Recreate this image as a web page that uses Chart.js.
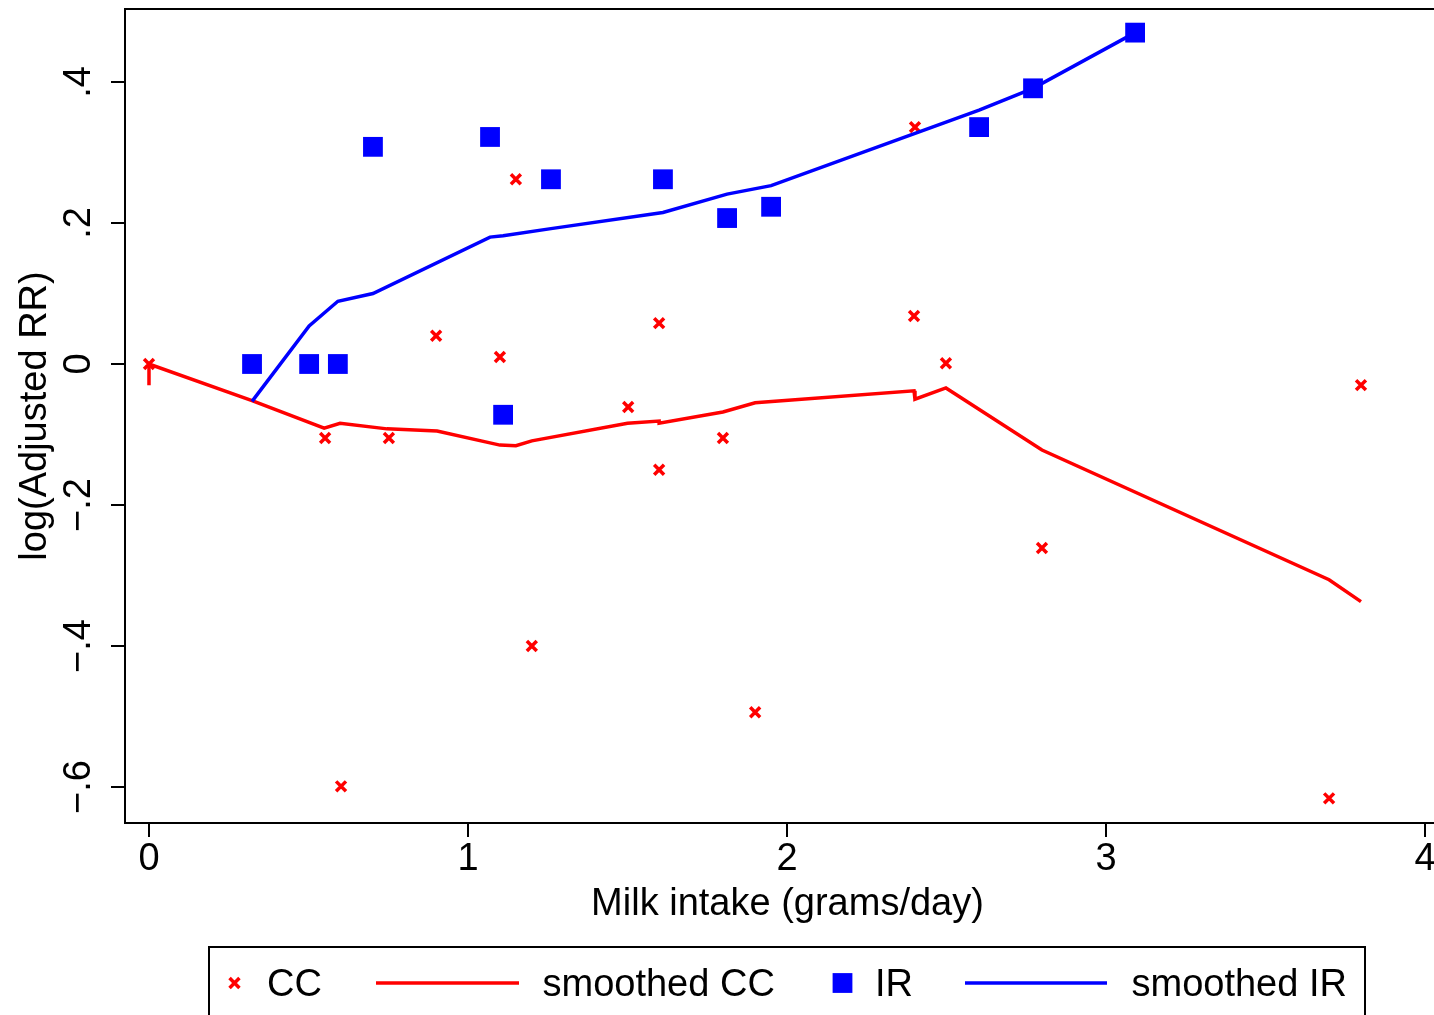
<!DOCTYPE html>
<html lang="en">
<head>
  <meta charset="UTF-8">
  <title>Milk intake and log(Adjusted RR)</title>
  <script src="https://cdn.jsdelivr.net/npm/chart.js@4.4.0/dist/chart.umd.min.js"></script>
  <style>
    body { margin: 0; overflow: hidden; background: #fff; }
    #wrap { width: 1450px; height: 1015px; }
  </style>
</head>
<body>
  <div id="wrap"><canvas id="chart" width="1450" height="1015"></canvas></div>

  <script>
    // CC studies (red crosses)
    const ccX = [0, 0.552, 0.752, 0.602, 0.900, 1.100, 1.150, 1.200, 1.502, 1.599, 1.599, 1.799, 1.900, 2.401, 2.398, 2.498, 2.799, 3.699, 3.799];
    const ccY = [0, -0.105, -0.105, -0.599, 0.040, 0.010, 0.262, -0.400, -0.061, 0.058, -0.150, -0.105, -0.494, 0.336, 0.068, 0.001, -0.261, -0.616, -0.030];

    // smoothed CC line
    const smCCX = [0, 0, 0.323, 0.549, 0.599, 0.746, 0.903, 1.100, 1.150, 1.200, 1.500, 1.599, 1.599, 1.799, 1.900, 2.398, 2.401, 2.498, 2.799, 3.699, 3.799];
    const smCCY = [-0.030, 0, -0.052, -0.091, -0.084, -0.092, -0.095, -0.115, -0.116, -0.109, -0.084, -0.081, -0.084, -0.068, -0.055, -0.038, -0.050, -0.034, -0.122, -0.306, -0.337];

    // IR studies (blue squares)
    const irX = [0.323, 0.502, 0.592, 0.702, 1.069, 1.110, 1.260, 1.611, 1.812, 1.950, 2.602, 2.771, 3.091];
    const irY = [0, 0, 0, 0.308, 0.322, -0.072, 0.262, 0.262, 0.207, 0.223, 0.336, 0.391, 0.470];

    // smoothed IR line
    const smIRX = [0.323, 0.502, 0.592, 0.702, 1.069, 1.110, 1.260, 1.611, 1.812, 1.950, 2.602, 2.771, 3.091];
    const smIRY = [-0.053, 0.054, 0.089, 0.100, 0.180, 0.182, 0.192, 0.215, 0.241, 0.253, 0.360, 0.391, 0.470];

    // axis ticks
    const xTickValues = [0, 1, 2, 3, 4];
    const xTickLabels = ['0', '1', '2', '3', '4'];
    const yTickValues = [-0.6, -0.4, -0.2, 0, 0.2, 0.4];
    const yTickLabels = ['\u2212.6', '\u2212.4', '\u2212.2', '0', '.2', '.4'];

    const RED = '#ff0000';
    const BLUE = '#0000ff';
    const FONT = "'Liberation Sans', Arial, sans-serif";

    function toPoints(xs, ys) {
      return xs.map(function (x, i) { return { x: x, y: ys[i] } });
    }

    // box round the plot region
    const frame = {
      id: 'frame',
      afterDraw(chart) {
        const a = chart.chartArea;
        const ctx = chart.ctx;
        ctx.save();
        ctx.strokeStyle = '#000';
        ctx.lineWidth = 2;
        ctx.strokeRect(a.left, a.top, a.right - a.left, a.bottom - a.top);
        ctx.restore();
      }
    };

    // legend box under the chart, one slot per dataset
    const legendSlots = [
      { kind: 'point', mx: 234.5, tx: 267 },
      { kind: 'line', mx: 376, mw: 143, tx: 542.5 },
      { kind: 'point', mx: 842.5, tx: 875 },
      { kind: 'line', mx: 965, mw: 142, tx: 1131.5 }
    ];
    const legendBox = {
      id: 'legendBox',
      afterDraw(chart) {
        const ctx = chart.ctx;
        const midY = 983;
        ctx.save();
        ctx.strokeStyle = '#000';
        ctx.lineWidth = 2;
        ctx.strokeRect(209, 947, 1365 - 209, 120);
        chart.data.datasets.forEach(function (ds, i) {
          const s = legendSlots[i];
          const col = ds.borderColor;
          if (s.kind === 'line') {
            ctx.strokeStyle = col;
            ctx.lineWidth = ds.borderWidth;
            ctx.beginPath();
            ctx.moveTo(s.mx, midY);
            ctx.lineTo(s.mx + s.mw, midY);
            ctx.stroke();
          } else {
            ctx.fillStyle = col;
            ctx.strokeStyle = col;
            ctx.lineWidth = ds.pointBorderWidth || 1;
            Chart.helpers.drawPoint(ctx, {
              pointStyle: ds.pointStyle,
              radius: ds.pointRadius,
              borderWidth: ds.pointBorderWidth || 0,
              rotation: 0
            }, s.mx, midY);
          }
          ctx.fillStyle = '#000';
          ctx.font = '38px ' + FONT;
          ctx.textAlign = 'left';
          ctx.textBaseline = 'alphabetic';
          ctx.fillText(ds.label, s.tx, 996);
        });
        ctx.restore();
      }
    };

    function noPad(s) {
      s.paddingTop = 0;
      s.paddingBottom = 0;
      s.paddingLeft = 0;
      s.paddingRight = 0;
    }

    const chart = new Chart(document.getElementById('chart'), {
      type: 'scatter',
      data: {
        datasets: [{
          label: 'CC',
          data: toPoints(ccX, ccY),
          pointStyle: 'crossRot',
          pointRadius: 7,
          pointBorderWidth: 3.5,
          borderColor: RED,
          backgroundColor: RED,
          order: 4
        }, {
          label: 'smoothed CC',
          data: toPoints(smCCX, smCCY),
          showLine: true,
          pointRadius: 0,
          borderColor: RED,
          borderWidth: 3.5,
          order: 3
        }, {
          label: 'IR',
          data: toPoints(irX, irY),
          pointStyle: 'rect',
          pointRadius: 14,
          pointBorderWidth: 0,
          borderColor: BLUE,
          backgroundColor: BLUE,
          order: 2
        }, {
          label: 'smoothed IR',
          data: toPoints(smIRX, smIRY),
          showLine: true,
          pointRadius: 0,
          borderColor: BLUE,
          borderWidth: 3.5,
          order: 1
        }]
      },
      options: {
        responsive: false,
        animation: false,
        layout: { autoPadding: false, padding: { top: 9, left: 0, right: 0, bottom: 0 } },
        plugins: {
          legend: { display: false },
          tooltip: { enabled: false }
        },
        scales: {
          x: {
            type: 'linear',
            min: -0.0752,
            max: 4.078,
            afterBuildTicks: function (s) { s.ticks = xTickValues.map(function (v) { return { value: v } }) },
            afterFit: function (s) { s.height = 192; noPad(s) },
            ticks: {
              includeBounds: false,
              autoSkip: false,
              maxRotation: 0,
              color: '#000',
              padding: 0,
              font: { family: FONT, size: 38 },
              callback: function (v, i) { return xTickLabels[i] }
            },
            grid: { drawOnChartArea: false, drawTicks: true, tickLength: 14, color: '#000', lineWidth: 2 },
            border: { display: false },
            title: {
              display: true,
              text: 'Milk intake (grams/day)',
              color: '#000',
              font: { family: FONT, size: 38 },
              padding: { top: 0, bottom: 88 }
            }
          },
          y: {
            type: 'linear',
            min: -0.651,
            max: 0.5035,
            afterBuildTicks: function (s) { s.ticks = yTickValues.map(function (v) { return { value: v } }) },
            afterFit: function (s) { s.width = 125; noPad(s) },
            ticks: {
              includeBounds: false,
              autoSkip: false,
              minRotation: 90,
              maxRotation: 90,
              crossAlign: 'center',
              color: '#000',
              padding: 5,
              font: { family: FONT, size: 38 },
              callback: function (v, i) { return yTickLabels[i] }
            },
            grid: { drawOnChartArea: false, drawTicks: true, tickLength: 14, color: '#000', lineWidth: 2 },
            border: { display: false },
            title: {
              display: true,
              text: 'log(Adjusted RR)',
              color: '#000',
              font: { family: FONT, size: 38 },
              padding: { top: 13, bottom: 0 }
            }
          }
        }
      },
      plugins: [frame, legendBox]
    });
  </script>
</body>
</html>
